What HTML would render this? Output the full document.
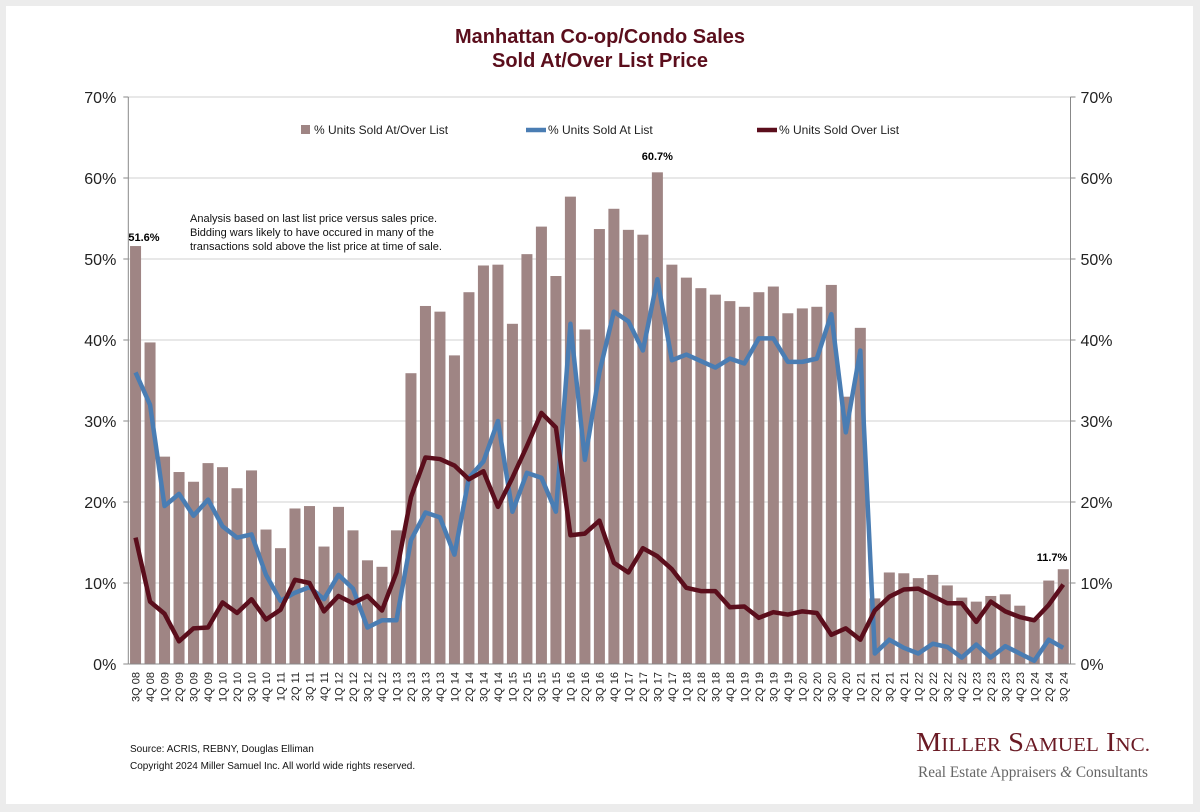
<!DOCTYPE html>
<html><head><meta charset="utf-8"><style>
body{margin:0;background:#ececec;}
#p{position:absolute;left:6px;top:6px;width:1187px;height:798px;background:#fff;}
svg{position:absolute;left:0;top:0;}
</style></head><body><div id="p"></div>
<svg id="s" width="1200" height="812" xmlns="http://www.w3.org/2000/svg" font-family="Liberation Sans, Arial, sans-serif"></svg>
<script>
var bars=[51.6,39.7,25.6,23.7,22.5,24.8,24.3,21.7,23.9,16.6,14.3,19.2,19.5,14.5,19.4,16.5,12.8,12.0,16.5,35.9,44.2,43.5,38.1,45.9,49.2,49.3,42.0,50.6,54.0,47.9,57.7,41.3,53.7,56.2,53.6,53.0,60.7,49.3,47.7,46.4,45.6,44.8,44.1,45.9,46.6,43.3,43.9,44.1,46.8,33.0,41.5,8.1,11.3,11.2,10.6,11.0,9.7,8.2,7.7,8.4,8.6,7.2,5.6,10.3,11.7];
var blue=[36,32,19.5,21,18.3,20.3,17,15.6,16,11,7.8,8.8,9.5,8,11,9.3,4.5,5.4,5.4,15.3,18.7,18.1,13.5,23,25,30,18.8,23.6,23,18.8,42,25.2,36,43.5,42.3,38.7,47.5,37.5,38.2,37.4,36.6,37.7,37.1,40.2,40.2,37.3,37.3,37.7,43.2,28.6,38.7,1.3,3,2,1.3,2.5,2.1,0.8,2.4,0.8,2.2,1.3,0.4,3,2];
var red=[15.6,7.7,6.2,2.8,4.4,4.5,7.6,6.3,8,5.5,6.7,10.4,10,6.5,8.4,7.5,8.4,6.6,11.3,20.6,25.5,25.3,24.5,22.8,23.8,19.4,23,26.9,31,29.2,15.9,16.1,17.7,12.5,11.3,14.3,13.3,11.7,9.4,9,9,7,7.1,5.7,6.4,6.1,6.5,6.3,3.6,4.4,3,6.6,8.3,9.2,9.3,8.4,7.5,7.5,5.2,7.7,6.5,5.8,5.4,7.3,9.8];
var L=128.3,R=1070.5,T=97,B=664,n=65,w=(R-L)/n;
function Y(v){return B-v*(B-T)/70;}
function X(i){return L+w*(i+0.5);}
var h='';
for(var k=0;k<=7;k++){var y=Y(k*10);
 if(k>0)h+='<line x1="'+L+'" x2="'+R+'" y1="'+y+'" y2="'+y+'" stroke="#d0d0d0" stroke-width="1"/>';
 h+='<line x1="'+(L-5)+'" x2="'+L+'" y1="'+y+'" y2="'+y+'" stroke="#888"/>';
 h+='<line x1="'+R+'" x2="'+(R+5)+'" y1="'+y+'" y2="'+y+'" stroke="#888"/>';
 h+='<text x="'+(L-12)+'" y="'+(y+6)+'" font-size="16" text-anchor="end" fill="#222">'+k*10+'%</text>';
 h+='<text x="'+(R+10)+'" y="'+(y+6)+'" font-size="16" fill="#222">'+k*10+'%</text>';}
var qs=['1Q','2Q','3Q','4Q'];
for(var i=0;i<n;i++){var bw=w*0.76,x=X(i)-bw/2;
 h+='<rect x="'+x+'" y="'+Y(bars[i])+'" width="'+bw+'" height="'+(B-Y(bars[i]))+'" fill="#9f8584"/>';
 var q=(i+2)%4,yr=8+Math.floor((i+2)/4);var lab=qs[q]+' '+(yr<10?'0'+yr:yr);
 h+='<text transform="translate('+(X(i)+4)+',672) rotate(-90)" font-size="11" text-anchor="end" fill="#222">'+lab+'</text>';}
h+='<line x1="'+L+'" x2="'+L+'" y1="'+T+'" y2="'+B+'" stroke="#888"/><line x1="'+R+'" x2="'+R+'" y1="'+T+'" y2="'+B+'" stroke="#888"/><line x1="'+L+'" x2="'+R+'" y1="'+B+'" y2="'+B+'" stroke="#888"/>';
function pl(a,c){var s='';for(var i=0;i<a.length;i++)s+=X(i)+','+Y(a[i])+' ';return '<polyline points="'+s+'" fill="none" stroke="'+c+'" stroke-width="4.5" stroke-linejoin="round"/>';}
h+=pl(blue,'#4a7db3')+pl(red,'#5b0e1c');
h+='<text x="600" y="43" font-size="20" font-weight="bold" fill="#5b0e1c" text-anchor="middle">Manhattan Co-op/Condo Sales</text>';
h+='<text x="600" y="67" font-size="20" font-weight="bold" fill="#5b0e1c" text-anchor="middle">Sold At/Over List Price</text>';
h+='<rect x="301" y="125" width="9" height="9" fill="#9f8584"/><text x="314" y="134" font-size="12" fill="#222">% Units Sold At/Over List</text>';
h+='<line x1="526" x2="546" y1="130" y2="130" stroke="#4a7db3" stroke-width="4.5"/><text x="548" y="134" font-size="12" fill="#222">% Units Sold At List</text>';
h+='<line x1="757" x2="777" y1="130" y2="130" stroke="#5b0e1c" stroke-width="4.5"/><text x="779" y="134" font-size="12" fill="#222">% Units Sold Over List</text>';
h+='<text x="190" y="222" font-size="11" fill="#111">Analysis based on last list price versus sales price.</text>';
h+='<text x="190" y="236" font-size="11" fill="#111">Bidding wars likely to have occured in many of the</text>';
h+='<text x="190" y="250" font-size="11" fill="#111">transactions sold above the list price at time of sale.</text>';
h+='<text x="144" y="241" font-size="11" font-weight="bold" text-anchor="middle">51.6%</text>';
h+='<text x="'+X(36)+'" y="160" font-size="11" font-weight="bold" text-anchor="middle">60.7%</text>';
h+='<text x="1052" y="561" font-size="11" font-weight="bold" text-anchor="middle">11.7%</text>';
h+='<text x="130" y="752" font-size="10" fill="#111">Source: ACRIS, REBNY, Douglas Elliman</text>';
h+='<text x="130" y="769" font-size="10" fill="#111">Copyright 2024 Miller Samuel Inc.  All world wide rights reserved.</text>';
h+='<text x="916" y="751" font-family="Liberation Serif, serif" font-size="27" fill="#6a1a24" textLength="234" lengthAdjust="spacingAndGlyphs">M<tspan font-size="20">ILLER</tspan> S<tspan font-size="20">AMUEL</tspan> I<tspan font-size="20">NC.</tspan></text>';
h+='<text x="918" y="777" font-family="Liberation Serif, serif" font-size="15.5" fill="#666" textLength="230" lengthAdjust="spacingAndGlyphs">Real Estate Appraisers <tspan font-style="italic">&amp;</tspan> Consultants</text>';
document.getElementById('s').innerHTML=h;
</script></body></html>
